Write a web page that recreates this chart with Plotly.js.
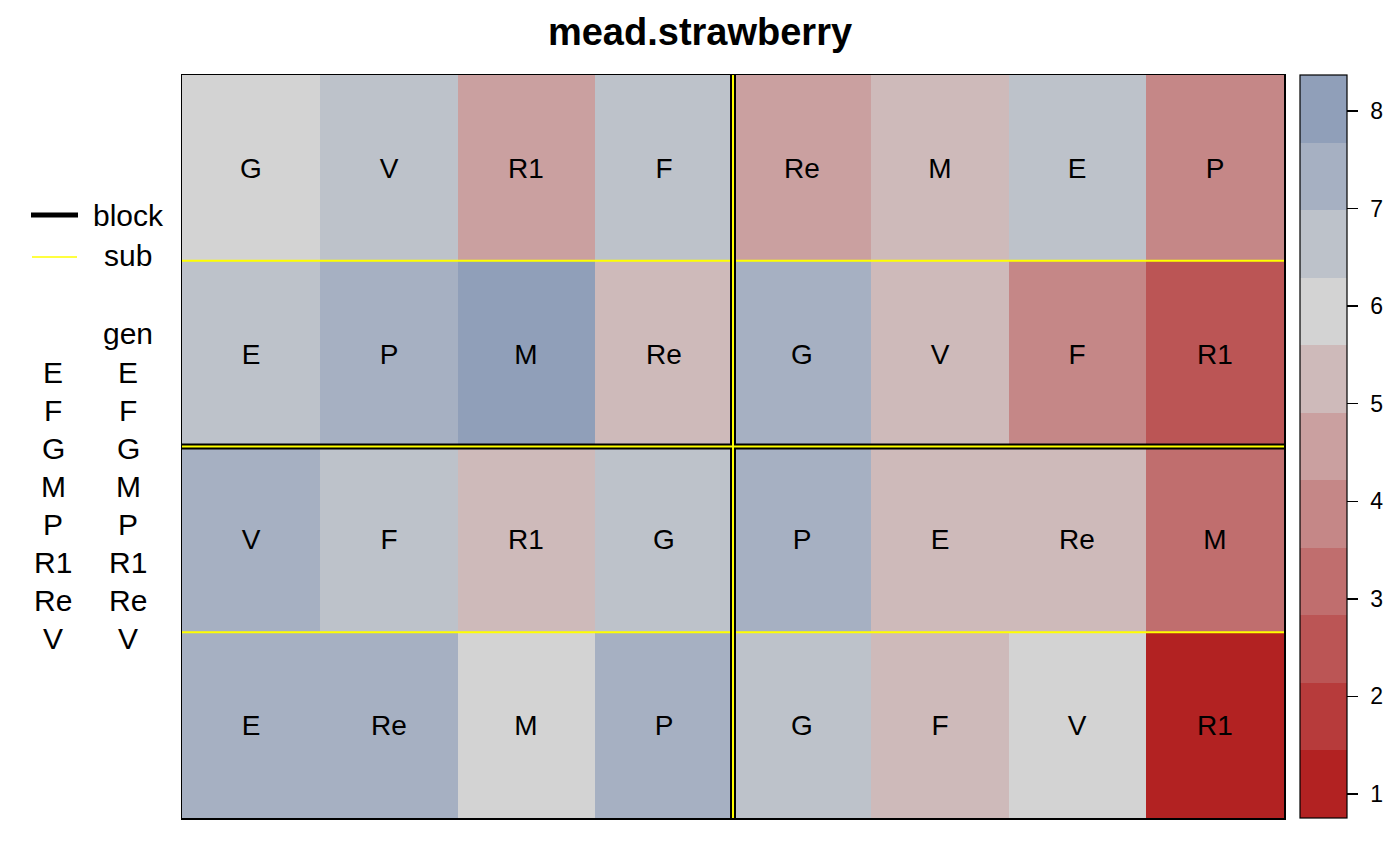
<!DOCTYPE html>
<html>
<head>
<meta charset="utf-8">
<script src="https://cdn.plot.ly/plotly-3.0.1.min.js"></script>
<style>html,body{margin:0;padding:0;background:#fff;}</style>
</head>
<body>
<div id="chart" style="width:1400px;height:866px;"></div>
<script>
// ---- data ----
const title = "mead.strawberry";
const cols = [1, 2, 3, 4, 5, 6, 7, 8];
const rows = [1, 2, 3, 4];
const gen_row1 = ["G", "V", "R1", "F", "Re", "M", "E", "P"];
const gen_row2 = ["E", "P", "M", "Re", "G", "V", "F", "R1"];
const gen_row3 = ["V", "F", "R1", "G", "P", "E", "Re", "M"];
const gen_row4 = ["E", "Re", "M", "P", "G", "F", "V", "R1"];
const yield_row1 = [5.94, 6.64, 4.56, 6.64, 4.56, 5.25, 6.64, 3.87];
const yield_row2 = [6.64, 7.33, 8.02, 5.25, 7.33, 5.25, 3.87, 2.48];
const yield_row3 = [7.33, 6.64, 5.25, 6.64, 7.33, 5.25, 5.25, 3.18];
const yield_row4 = [7.33, 7.33, 5.94, 7.33, 6.64, 5.25, 5.94, 1.10];
const genLevels = ["E", "F", "G", "M", "P", "R1", "Re", "V"];
const colorTicks = [1, 2, 3, 4, 5, 6, 7, 8];
const zRange = [0.754, 8.369];
const bandColors = ["#B22222", "#B73B3B", "#BB5555", "#C06E6E", "#C58787", "#CAA0A0",
                    "#CEBABA", "#D3D3D3", "#BDC2CA", "#A6B0C2", "#909FB9"];
const blockBreaksX = [4.5];
const blockBreaksY = [2.5];
const subBreaksY = [1.5, 3.5];

// ---- layout helpers ----
const W = 1400, H = 866;
const PL = 182, PR = 1284, PT = 75, PB = 818;
const px = x => (x - PL) / (PR - PL);
const py = y => (PB - y) / (PB - PT);

const n = bandColors.length;
const colorscale = [];
bandColors.forEach((c, i) => {
  colorscale.push([i / n, c]);
  colorscale.push([(i + 1) / n, c]);
});

const FONT = "Liberation Sans, Arial, sans-serif";

const trace = {
  type: "heatmap",
  x: cols,
  y: rows,
  z: [yield_row1, yield_row2, yield_row3, yield_row4],
  text: [gen_row1, gen_row2, gen_row3, gen_row4],
  texttemplate: "%{text}",
  textfont: {family: FONT, size: 28, color: "#000"},
  colorscale: colorscale,
  zmin: zRange[0],
  zmax: zRange[1],
  xgap: 0, ygap: 0,
  hoverinfo: "skip",
  colorbar: {
    x: px(1300), xanchor: "left", xpad: 0,
    y: 0.5, yanchor: "middle", ypad: 0,
    thickness: 47, thicknessmode: "pixels",
    len: PB - PT, lenmode: "pixels",
    outlinewidth: 1.2, outlinecolor: "#000",
    tickmode: "array",
    tickvals: colorTicks,
    ticktext: colorTicks.map(v => "\u2004" + v),
    ticks: "outside", ticklen: 11, tickwidth: 1.5, tickcolor: "#000",
    tickfont: {family: FONT, size: 23, color: "#000"}
  }
};

const shapes = [];
subBreaksY.forEach(y => shapes.push({type: "line", xref: "x", yref: "y", x0: 0.5, x1: 8.5, y0: y, y1: y,
  line: {color: "#FFFF00", width: 2}}));
blockBreaksX.forEach(x => {
  shapes.push({type: "line", xref: "x", yref: "y", x0: x, x1: x, y0: 0.5, y1: 4.5, line: {color: "#000", width: 6}});
});
blockBreaksY.forEach(y => {
  shapes.push({type: "line", xref: "x", yref: "y", x0: 0.5, x1: 8.5, y0: y, y1: y, line: {color: "#000", width: 6}});
});
blockBreaksX.forEach(x => {
  shapes.push({type: "line", xref: "x", yref: "y", x0: x, x1: x, y0: 0.5, y1: 4.5, line: {color: "#FFFF00", width: 2}});
});
blockBreaksY.forEach(y => {
  shapes.push({type: "line", xref: "x", yref: "y", x0: 0.5, x1: 8.5, y0: y, y1: y, line: {color: "#FFFF00", width: 2}});
});
// legend keys
shapes.push({type: "line", xref: "paper", yref: "paper", x0: px(31), x1: px(78), y0: py(215), y1: py(215),
  line: {color: "#000", width: 5}});
shapes.push({type: "line", xref: "paper", yref: "paper", x0: px(32), x1: px(77), y0: py(257), y1: py(257),
  line: {color: "#FFFF00", width: 1.5}});

const annotations = [];
const ann = (x, y, text, anchor) => annotations.push({
  xref: "paper", yref: "paper", x: px(x), y: py(y), text: text, showarrow: false,
  xanchor: anchor || "center", yanchor: "middle",
  font: {family: FONT, size: 30, color: "#000"}
});
ann(91, 216, "block", "left");
ann(128, 256, "sub");
ann(128, 333, "gen");
genLevels.forEach((g, i) => {
  const y = 372 + i * 38.1;
  ann(53, y, g);
  ann(128, y, g);
});

const layout = {
  width: W, height: H,
  font: {family: FONT, size: 23, color: "#000"},
  margin: {l: PL, r: W - PR, t: PT, b: H - PB, pad: 0},
  paper_bgcolor: "#fff", plot_bgcolor: "#fff",
  title: {text: "<b>" + title + "</b>", x: 0.5, xref: "container", xanchor: "center",
          y: 1 - 32 / H, yref: "container", yanchor: "middle",
          font: {family: FONT, size: 38, color: "#000"}},
  xaxis: {range: [0.5, 8.5], showticklabels: false, ticks: "", showgrid: false, zeroline: false,
          showline: true, mirror: true, linecolor: "#000", linewidth: 1.5, fixedrange: true},
  yaxis: {range: [4.5, 0.5], showticklabels: false, ticks: "", showgrid: false, zeroline: false,
          showline: true, mirror: true, linecolor: "#000", linewidth: 1.5, fixedrange: true},
  shapes: shapes,
  annotations: annotations,
  showlegend: false
};

Plotly.newPlot("chart", [trace], layout, {displayModeBar: false, staticPlot: true});
</script>
</body>
</html>
